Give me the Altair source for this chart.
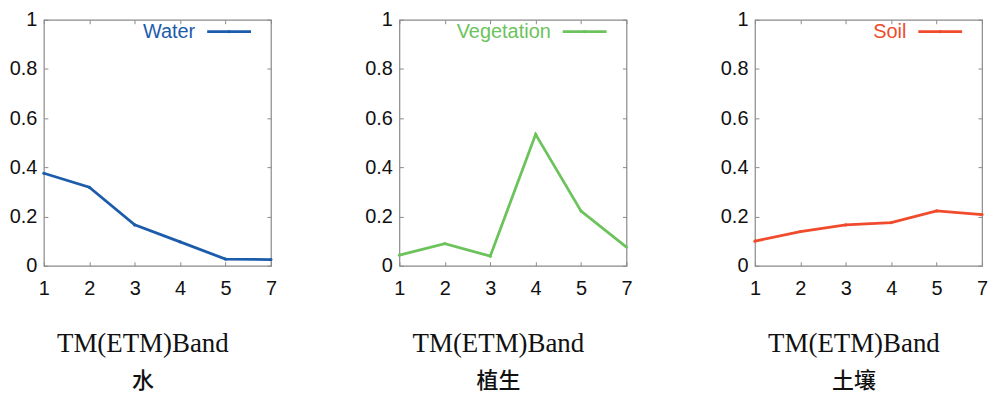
import altair as alt
import pandas as pd

bands = ["1", "2", "3", "4", "5", "7"]
water = [0.376, 0.319, 0.166, 0.097, 0.027, 0.025]
vegetation = [0.043, 0.090, 0.039, 0.534, 0.222, 0.076]
soil = [0.100, 0.139, 0.166, 0.175, 0.223, 0.208]

names = ["Water", "Vegetation", "Soil"]
series = [water, vegetation, soil]
colors = ["#1c5cab", "#6cc35c", "#f04b2c"]
cn_titles = ["水", "植生", "土壤"]
xlabel = "TM(ETM)Band"
yticks = [0, 0.2, 0.4, 0.6, 0.8, 1]

W, H = 228, 247
SANS = "Liberation Sans"
TICKC = "#8a8a8a"


def panel(name, vals, color, cn):
    df = pd.DataFrame({"band": bands, "value": vals})
    base = alt.Chart(df)
    xs = alt.Scale(type="point", padding=0, domain=bands)
    ys = alt.Scale(domain=[0, 1], nice=False, zero=True)

    line = base.mark_line(
        color=color, strokeWidth=2.8,
        point=alt.OverlayMarkDef(color=color, size=10, filled=True),
    ).encode(
        x=alt.X("band:O", scale=xs, sort=bands,
                axis=alt.Axis(orient="bottom", title=None, labelAngle=0, ticks=False,
                              domain=False, labelPadding=13, labelFontSize=20,
                              labelFont=SANS, labelColor="#111")),
        y=alt.Y("value:Q", scale=ys,
                axis=alt.Axis(orient="left", title=None, values=yticks, format="~g",
                              ticks=False, domain=False, grid=False, labelPadding=7,
                              labelFontSize=20, labelFont=SANS, labelColor="#111")),
    )

    tick_axis = dict(title=None, labels=False, domain=False, ticks=True,
                     tickSize=4, tickColor=TICKC, tickWidth=1, offset=-4, grid=False)

    t_bl = base.mark_line(opacity=0).encode(
        x=alt.X("band:O", scale=xs, sort=bands, axis=alt.Axis(orient="bottom", **tick_axis)),
        y=alt.Y("value:Q", scale=ys, axis=alt.Axis(orient="left", values=yticks, **tick_axis)),
    )
    t_tr = base.mark_line(opacity=0).encode(
        x=alt.X("band:O", scale=xs, sort=bands, axis=alt.Axis(orient="top", **tick_axis)),
        y=alt.Y("value:Q", scale=ys, axis=alt.Axis(orient="right", values=yticks, **tick_axis)),
    )

    leg_df = pd.DataFrame({"label": [name]})
    leg_text = alt.Chart(leg_df).mark_text(
        align="right", baseline="middle", fontSize=20, font=SANS, color=color
    ).encode(text="label:N", x=alt.value(152), y=alt.value(12))
    leg_rule = alt.Chart(leg_df).mark_rule(color=color, strokeWidth=2.8).encode(
        x=alt.value(164), x2=alt.value(208), y=alt.value(12))
    leg_pt = alt.Chart(leg_df).mark_point(color=color, filled=True, size=10, opacity=1).encode(
        x=alt.value(186), y=alt.value(12))

    return alt.layer(line, t_bl, t_tr, leg_text, leg_rule, leg_pt).resolve_axis(
        x="independent", y="independent"
    ).properties(
        width=W, height=H,
        title=alt.TitleParams(
            text=xlabel, subtitle=cn, orient="bottom", anchor="middle", frame="bounds",
            font="Liberation Serif", fontSize=27, fontWeight="normal", color="#111",
            subtitleFont="Noto Sans CJK SC", subtitleFontSize=22, subtitleColor="#111",
            subtitleFontWeight=500, subtitlePadding=13, offset=33,
        ),
    )


chart = alt.hconcat(
    *[panel(n, v, c, t) for n, v, c, t in zip(names, series, colors, cn_titles)],
    spacing=86,
).properties(padding=0).configure_view(
    stroke=TICKC, strokeWidth=1.2
)

chart.save("out.html", embed_options={"renderer": "svg", "actions": False})
